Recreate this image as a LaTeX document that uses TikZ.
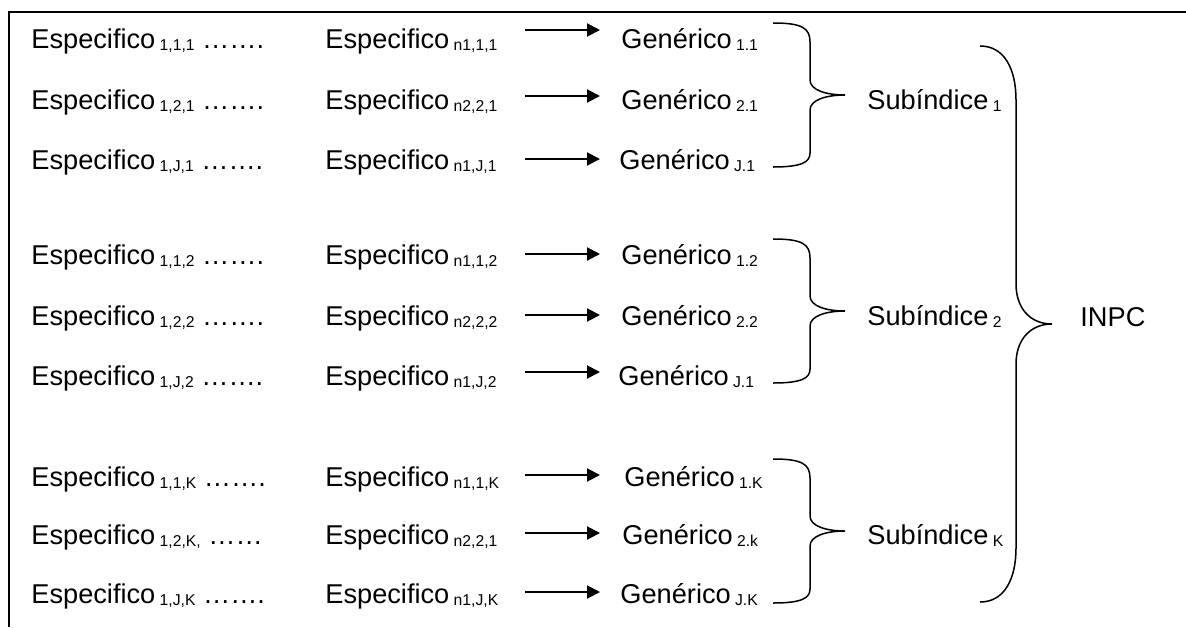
\documentclass[tikz,border=0pt]{standalone}
\usepackage{fontspec}
\setmainfont{Liberation Sans}
\usetikzlibrary{arrows.meta}
\newcommand{\idx}[1]{{\fontsize{7.85}{9}\selectfont\ \raisebox{-1.25pt}{#1}}}

\begin{document}
\begin{tikzpicture}[scale=0.5, x=1pt, y=-1pt,
        txt/.style={anchor=base west, inner sep=0pt, font=\fontsize{13.6}{16}\selectfont},
        arr/.style={-{Triangle[length=6.5pt, width=6.5pt]}, line width=1pt},
        brace/.style={line width=0.75pt}]
                \useasboundingbox (0,0) rectangle (1186,627);
                \draw[line width=1pt] (1186,12) -- (9,12) -- (9,627);

                % Nodes
                \node[txt] at (31, 48)  (e1)    {Especifico\idx{1,1,1} …….};
                \node[txt] at (31, 109) (e2)    {Especifico\idx{1,2,1} …….};
                \node[txt] at (31, 169) (e3)    {Especifico\idx{1,J,1} …….};
                \node[txt] at (31, 264) (e4)    {Especifico\idx{1,1,2} …….};
                \node[txt] at (31, 325) (e5)    {Especifico\idx{1,2,2} …….};
                \node[txt] at (31, 385) (e6)    {Especifico\idx{1,J,2} …….};
                \node[txt] at (31, 486) (e7)    {Especifico\idx{1,1,K} …….};
                \node[txt] at (31, 544) (e8)    {Especifico\idx{1,2,K,} ……};
                \node[txt] at (31, 603) (e9)    {Especifico\idx{1,J,K} …….};

                \node[txt] at (325, 48)  (n1)    {Especifico\idx{n1,1,1}};
                \node[txt] at (325, 109) (n2)    {Especifico\idx{n2,2,1}};
                \node[txt] at (325, 169) (n3)    {Especifico\idx{n1,J,1}};
                \node[txt] at (325, 264) (n4)    {Especifico\idx{n1,1,2}};
                \node[txt] at (325, 325) (n5)    {Especifico\idx{n2,2,2}};
                \node[txt] at (325, 385) (n6)    {Especifico\idx{n1,J,2}};
                \node[txt] at (325, 486) (n7)    {Especifico\idx{n1,1,K}};
                \node[txt] at (325, 544) (n8)    {Especifico\idx{n2,2,1}};
                \node[txt] at (325, 603) (n9)    {Especifico\idx{n1,J,K}};

                \node[txt] at (621, 48)  (g1)    {Genérico\idx{1.1}};
                \node[txt] at (621, 109) (g2)    {Genérico\idx{2.1}};
                \node[txt] at (619, 169) (g3)    {Genérico\idx{J.1}};
                \node[txt] at (621, 264) (g4)    {Genérico\idx{1.2}};
                \node[txt] at (621, 325) (g5)    {Genérico\idx{2.2}};
                \node[txt] at (618, 385) (g6)    {Genérico\idx{J.1}};
                \node[txt] at (624, 486) (g7)    {Genérico\idx{1.K}};
                \node[txt] at (622, 544) (g8)    {Genérico\idx{2.k}};
                \node[txt] at (620, 603) (g9)    {Genérico\idx{J.K}};

                \node[txt] at (867, 109) (s1)    {Subíndice\idx{1}};
                \node[txt] at (867, 325) (s2)    {Subíndice\idx{2}};
                \node[txt] at (867, 544) (sK)    {Subíndice\idx{K}};
                \node[txt] at (1080, 326) (inpc) {INPC};

                % Arrows
                \coordinate (p1) at (525, 30);  \coordinate (q1) at (600, 30);
                \coordinate (p2) at (525, 96);  \coordinate (q2) at (600, 96);
                \coordinate (p3) at (525, 159); \coordinate (q3) at (600, 159);
                \coordinate (p4) at (525, 254); \coordinate (q4) at (600, 254);
                \coordinate (p5) at (525, 315); \coordinate (q5) at (600, 315);
                \coordinate (p6) at (525, 372); \coordinate (q6) at (600, 372);
                \coordinate (p7) at (525, 475); \coordinate (q7) at (600, 475);
                \coordinate (p8) at (525, 533); \coordinate (q8) at (600, 533);
                \coordinate (p9) at (525, 592); \coordinate (q9) at (600, 592);

                \draw[arr] (p1) -- (q1);
                \draw[arr] (p2) -- (q2);
                \draw[arr] (p3) -- (q3);
                \draw[arr] (p4) -- (q4);
                \draw[arr] (p5) -- (q5);
                \draw[arr] (p6) -- (q6);
                \draw[arr] (p7) -- (q7);
                \draw[arr] (p8) -- (q8);
                \draw[arr] (p9) -- (q9);

                % Braces
                \draw[brace] (773,23) .. controls (802,23) and (810,28) .. (810,42) -- (810,80)
                    .. controls (810,90) and (826,95) .. (845,95) .. controls (826,95) and (810,100) .. (810,110)
                    -- (810,153) .. controls (810,162) and (802,167) .. (773,167);
                \draw[brace] (773,239) .. controls (802,239) and (810,244) .. (810,258) -- (810,296)
                    .. controls (810,306) and (826,311) .. (845,311) .. controls (826,311) and (810,316) .. (810,326)
                    -- (810,369) .. controls (810,378) and (802,383) .. (773,383);
                \draw[brace] (773,459) .. controls (802,459) and (810,464) .. (810,478) -- (810,516)
                    .. controls (810,526) and (826,531) .. (845,531) .. controls (826,531) and (810,536) .. (810,546)
                    -- (810,589) .. controls (810,598) and (802,603) .. (773,603);
                \draw[brace] (980,46) .. controls (1005,46) and (1016,70) .. (1016,100) -- (1016,284)
                    .. controls (1016,308) and (1030,324) .. (1052,324) .. controls (1030,324) and (1016,340) .. (1016,364)
                    -- (1016,548) .. controls (1016,578) and (1005,602) .. (980,602);
            \end{tikzpicture}
\end{document}
